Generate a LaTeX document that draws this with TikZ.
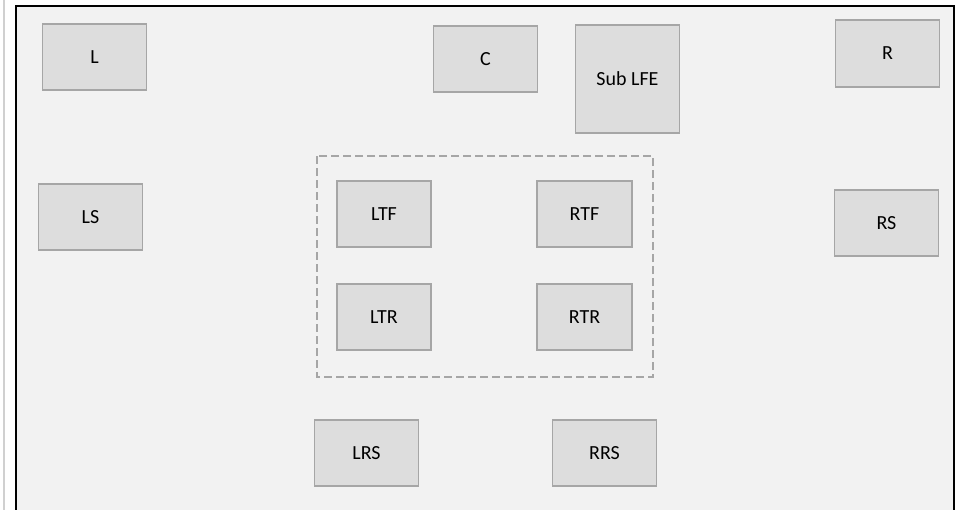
\documentclass[tikz,border=0pt]{standalone}
\usepackage{fontspec}
\setmainfont{Carlito}
\usepackage{xcolor}
\definecolor{bggray}{HTML}{F2F2F2}
\definecolor{boxfill}{HTML}{DDDDDD}
\definecolor{boxline}{HTML}{A6A6A6}
\definecolor{edgegray}{HTML}{D0D0D0}

\begin{document}
\begin{tikzpicture}[x=0.75pt,y=-0.75pt,font=\fontsize{15}{17}\selectfont]
    \tikzstyle{speaker} = [draw=boxline, fill=boxfill, line width=1.4pt, rectangle, inner sep=0pt, minimum width=78pt, minimum height=50pt]
    \tikzstyle{topspk} = [speaker, minimum width=71pt]

    \useasboundingbox (0,0) rectangle (961,510);

    % 画布
    \draw[edgegray, line width=1.5pt] (4,0) -- (4,510);
    \fill[bggray] (15.5,6) rectangle (954,510);
    \draw[line width=1.5pt] (15.5,510) -- (15.5,6) -- (954,6) -- (954,510);

    % 顶部区域
    \draw[boxline, line width=1.5pt, dash pattern=on 6pt off 3pt] (317,156) rectangle (653,377);

    % 定义扬声器
    \node[speaker] (L) at (94.5,57) {L};
    \node[speaker] (C) at (485.5,59) {C};
    \node[speaker, minimum height=81pt] (sub) at (627.5,79) {Sub LFE};
    \node[speaker] (R) at (887.5,53.5) {R};
    \node[speaker] (LS) at (90.5,217) {LS};
    \node[speaker] (RS) at (886.5,223) {RS};

    \node[topspk] (LTF) at (384,214) {LTF};
    \node[topspk] (RTF) at (584.5,214) {RTF};
    \node[topspk] (LTR) at (384,317) {LTR};
    \node[topspk] (RTR) at (584.5,317) {RTR};

    \node[speaker] (LRS) at (366.5,453) {LRS};
    \node[speaker] (RRS) at (604.5,453) {RRS};
\end{tikzpicture}
\end{document}
